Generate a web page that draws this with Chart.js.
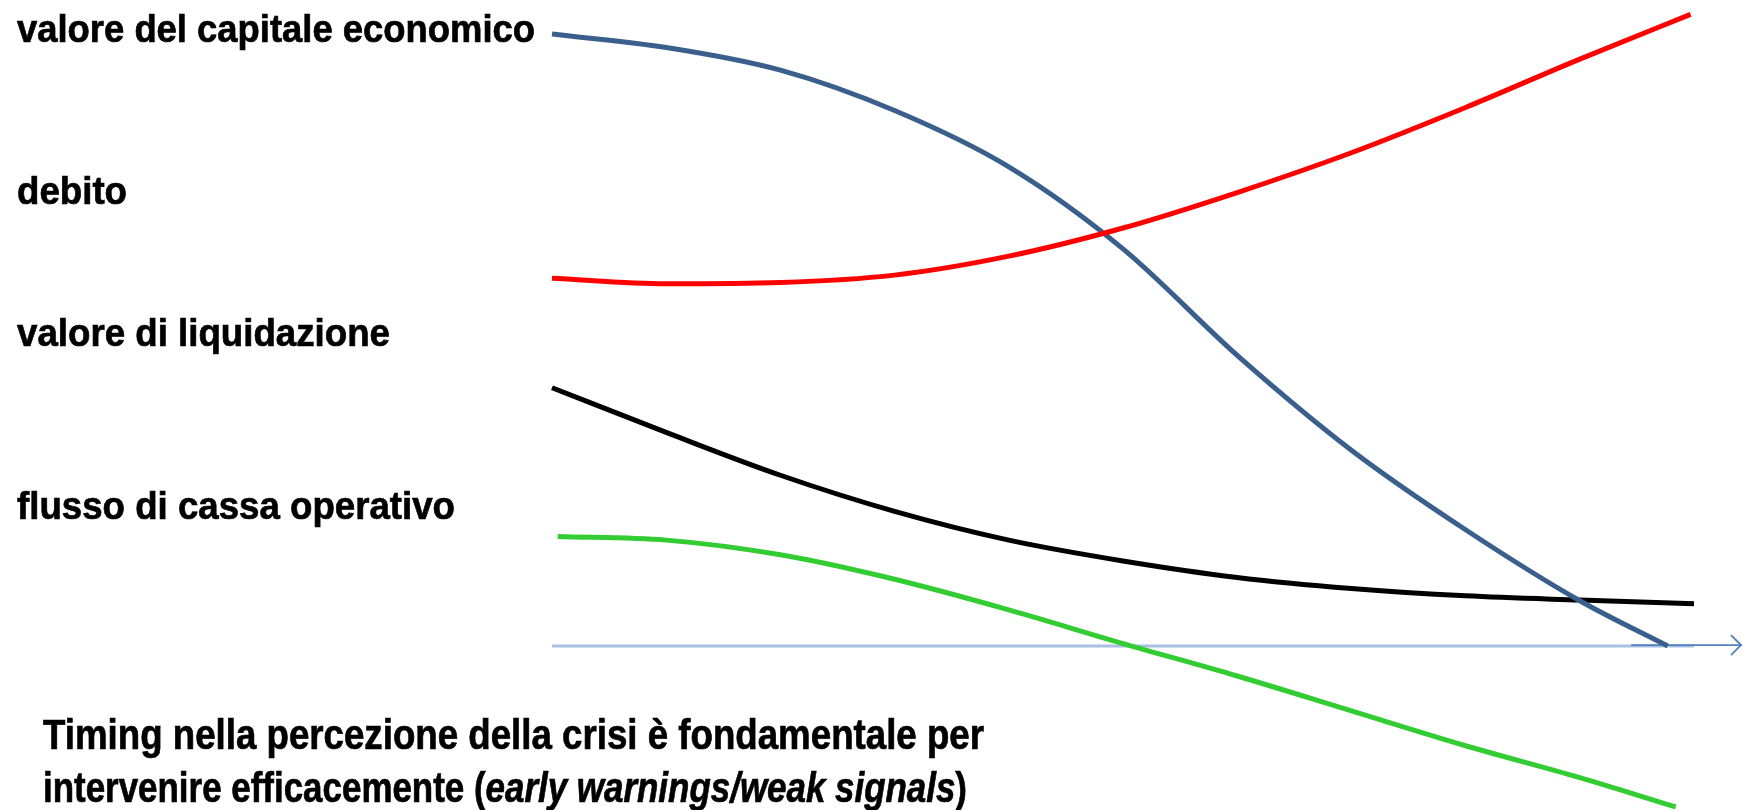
<!DOCTYPE html>
<html>
<head>
<meta charset="utf-8">
<script src="https://cdn.jsdelivr.net/npm/chart.js@4"></script>
<style>
  html, body { margin: 0; padding: 0; background: #fff; }
  canvas { display: block; }
</style>
</head>
<body>
<canvas id="chart" width="1742" height="810"></canvas>
<script>
// time on x (0..10), value on y (0 = axis)
const capitaleT = [0, 1, 2, 3, 4, 5, 6, 7, 8, 9, 9.77];
const capitaleV = [100, 97.8, 94.1, 87.5, 78.3, 64.9, 47.5, 32.0, 19.0, 7.4, 0];
const debitoT = [0, 1, 2, 3, 4, 5, 6, 7, 8, 9, 9.97];
const debitoV = [60.1, 59.2, 59.4, 60.6, 63.7, 68.3, 74.1, 80.6, 88.0, 95.9, 103.2];
const liquidazioneT = [0, 1, 2, 3, 4, 5, 6, 7, 8, 9, 10];
const liquidazioneV = [42.2, 34.9, 27.9, 22.0, 17.3, 13.9, 11.2, 9.4, 8.2, 7.5, 6.9];
const flussoT = [0.05, 1, 2, 3, 4, 5, 6, 7, 8, 9, 9.84];
const flussoV = [17.9, 17.3, 14.9, 10.9, 5.9, 0.4, -4.9, -10.6, -16.3, -21.5, -26.3];
const asseT = [0, 10];
const asseV = [0, 0];
const frecciaT = [9.45, 10.42];
const frecciaV = [0.15, 0.15];

const labels = [
    'valore del capitale economico',
    'debito',
    'valore di liquidazione',
    'flusso di cassa operativo'
];
const nota1 = [{ t: 'Timing nella percezione della crisi è fondamentale per' }];
const nota2 = [
    { t: 'intervenire efficacemente (' },
    { t: 'early warnings/weak signals', italic: true },
    { t: ')' }
];

function points(xs, ys) {
    return xs.map((x, i) => ({ x: x, y: ys[i] }));
}

const FONT = '"Liberation Sans", Arial, sans-serif';

function drawRuns(ctx, runs, x, y, size, width) {
    let natural = 0;
    runs.forEach(r => {
        ctx.font = (r.italic ? 'italic ' : '') + 'bold ' + size + 'px ' + FONT;
        natural += ctx.measureText(r.t).width;
    });
    const sx = width / natural;
    ctx.save();
    ctx.translate(x, y);
    ctx.scale(sx, 1);
    ctx.fillStyle = '#000';
    ctx.strokeStyle = '#000';
    ctx.lineWidth = 0.7;
    ctx.textBaseline = 'alphabetic';
    let cx = 0;
    runs.forEach(r => {
        ctx.font = (r.italic ? 'italic ' : '') + 'bold ' + size + 'px ' + FONT;
        ctx.fillText(r.t, cx, 0);
        ctx.strokeText(r.t, cx, 0);
        cx += ctx.measureText(r.t).width;
    });
    ctx.restore();
}

const textPlugin = {
    id: 'texts',
    afterDraw(chart) {
        const ctx = chart.ctx;
        const spots = [[17, 42, 518], [17, 204, 110], [17, 346, 373], [17, 519, 438]];
        labels.forEach((l, i) => {
            drawRuns(ctx, [{ t: l }], spots[i][0], spots[i][1], 39, spots[i][2]);
        });
        drawRuns(ctx, nota1, 43, 749, 42, 941);
        drawRuns(ctx, nota2, 43, 802, 42, 924);
    }
};

const arrowPlugin = {
    id: 'arrowHead',
    afterDatasetsDraw(chart) {
        const meta = chart.getDatasetMeta(4);
        const last = meta.data[meta.data.length - 1];
        const ctx = chart.ctx;
        ctx.save();
        ctx.strokeStyle = '#5080c0';
        ctx.lineWidth = 1.8;
        ctx.beginPath();
        ctx.moveTo(last.x - 11, last.y - 10);
        ctx.lineTo(last.x - 1, last.y);
        ctx.lineTo(last.x - 11, last.y + 10);
        ctx.stroke();
        ctx.restore();
    }
};

const ctx = document.getElementById('chart').getContext('2d');
const myChart = new Chart(ctx, {
    type: 'line',
    data: {
        datasets: [{
            label: 'debito',
            data: points(debitoT, debitoV),
            borderColor: '#ff0000',
            borderWidth: 5,
            order: 1
        }, {
            label: 'valore del capitale economico',
            data: points(capitaleT, capitaleV),
            borderColor: '#3b5f8d',
            borderWidth: 5,
            order: 2
        }, {
            label: 'valore di liquidazione',
            data: points(liquidazioneT, liquidazioneV),
            borderColor: '#000000',
            borderWidth: 5,
            order: 3
        }, {
            label: 'flusso di cassa operativo',
            data: points(flussoT, flussoV),
            borderColor: '#33cc33',
            borderWidth: 5,
            order: 4
        }, {
            label: 'freccia',
            data: points(frecciaT, frecciaV),
            borderColor: '#5080c0',
            borderWidth: 1.8,
            order: 5
        }, {
            label: 'asse',
            data: points(asseT, asseV),
            borderColor: '#a8c0e2',
            borderWidth: 3,
            order: 6
        }]
    },
    options: {
        responsive: false,
        animation: false,
        clip: false,
        layout: {
            padding: { left: 552, right: 48, top: 34, bottom: 164 }
        },
        elements: {
            point: { radius: 0, hoverRadius: 0 },
            line: { cubicInterpolationMode: 'monotone', fill: false, borderCapStyle: 'butt' }
        },
        plugins: {
            legend: { display: false },
            tooltip: { enabled: false }
        },
        scales: {
            x: { type: 'linear', min: 0, max: 10, display: false },
            y: { type: 'linear', min: 0, max: 100, display: false }
        }
    },
    plugins: [textPlugin, arrowPlugin]
});
</script>
</body>
</html>
